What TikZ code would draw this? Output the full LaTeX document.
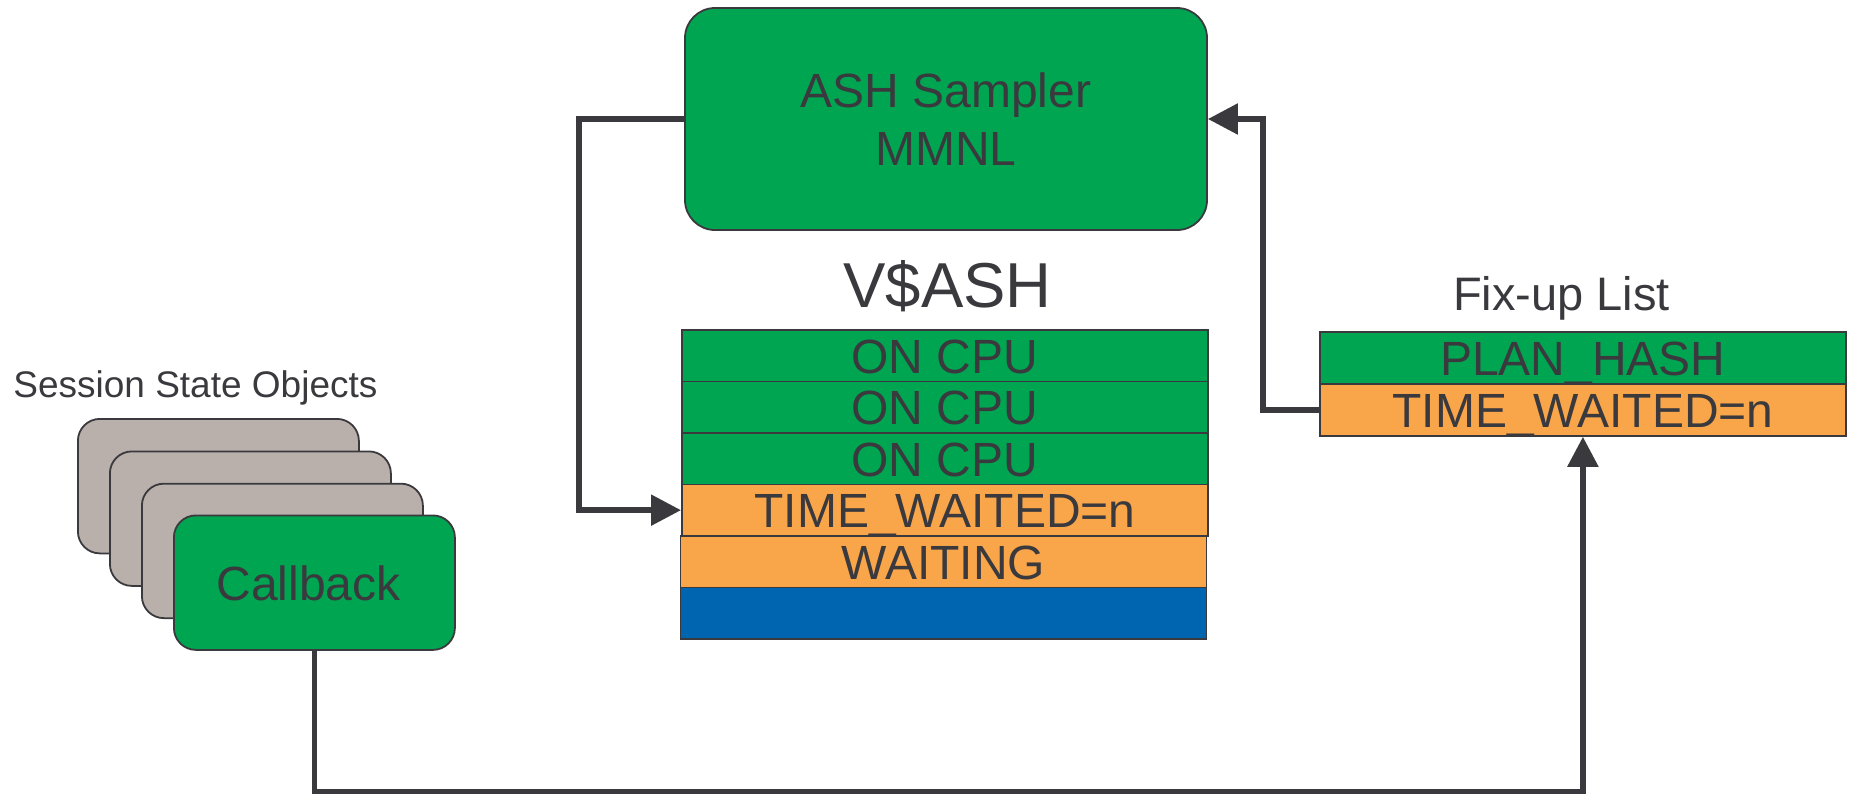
\documentclass[tikz,border=0pt]{standalone}
\usepackage{fontspec}
\setmainfont{Liberation Sans}
\usetikzlibrary{arrows.meta}
\definecolor{ashgreen}{HTML}{00A551}
\definecolor{ashorange}{HTML}{F9A64A}
\definecolor{ashblue}{HTML}{0065B1}
\definecolor{ashgray}{HTML}{BAB0AB}
\definecolor{ink}{HTML}{3A393E}
\tikzset{
  box/.style={draw=ink, line width=0.9pt, inner sep=0pt, text=ink},
  rowcell/.style={box, anchor=north west, minimum width=263pt, minimum height=25.75pt,
    text height=17.8pt, text depth=0pt, font=\fontsize{24}{28}\selectfont},
  oncpu/.style={rowcell, fill=ashgreen},
  waitcell/.style={rowcell, fill=ashorange},
  idlecell/.style={rowcell, fill=ashblue},
  session/.style={box, fill=ashgray, rounded corners=11pt, anchor=north west,
    minimum width=140.5pt, minimum height=67.25pt},
  conn/.style={draw=ink, line width=2.75pt, -{Triangle[length=15pt,width=15pt]}},
  title/.style={text=ink, inner sep=0pt, anchor=base},
}
\begin{document}
\begin{tikzpicture}[x=0.5pt, y=-0.5pt]
\useasboundingbox (0,0) rectangle (1858,793);

% sampler process
\node[box, fill=ashgreen, rounded corners=15pt, minimum width=261pt, minimum height=111pt,
  align=center, font=\fontsize{24}{29.35}\selectfont] (ash) at (946,119) {ASH Sampler\\MMNL};

% V$ASH buffer
\node[title, font=\fontsize{31.75}{38}\selectfont] (vlabel) at (947.5,307) {V\$ASH};
\node[oncpu] (r1) at (681,329) {ON CPU};
\node[oncpu] (r2) at (681,380.5) {ON CPU};
\node[oncpu] (r3) at (681,432) {ON CPU};
\node[waitcell] (r4) at (681,483.5) {TIME\_WAITED=n};
\node[waitcell] (r5) at (679.5,535) {WAITING};
\node[idlecell] (r6) at (679.5,586.5) {};

% fix-up list
\node[title, font=\fontsize{23.5}{28}\selectfont] (flabel) at (1561.5,310) {Fix-up List};
\node[oncpu, minimum height=26pt, text height=18pt] (f1) at (1319,331) {PLAN\_HASH};
\node[waitcell, minimum height=26pt, text height=18pt] (f2) at (1319,383) {TIME\_WAITED=n};

% session state objects
\node[title, anchor=base west, font=\fontsize{18.5}{22}\selectfont] (slabel) at (13,397) {Session State Objects};
\node[session] (s1) at (77,418) {};
\node[session] (s2) at (109,450.5) {};
\node[session] (s3) at (141,482.75) {};
\node[session, fill=ashgreen, text height=17.8pt, text depth=0pt,
  font=\fontsize{24}{28}\selectfont] (cb) at (173,514.5) {Callback\kern6pt};

% connectors
\draw[conn] (ash.west) -- ++(-105,0) |- (r4.west);
\draw[conn] (f2.west) -- ++(-56,0) |- (ash.east);
\draw[conn] (cb.south) -- ++(0,141) -| (f2.south);
\end{tikzpicture}
\end{document}
